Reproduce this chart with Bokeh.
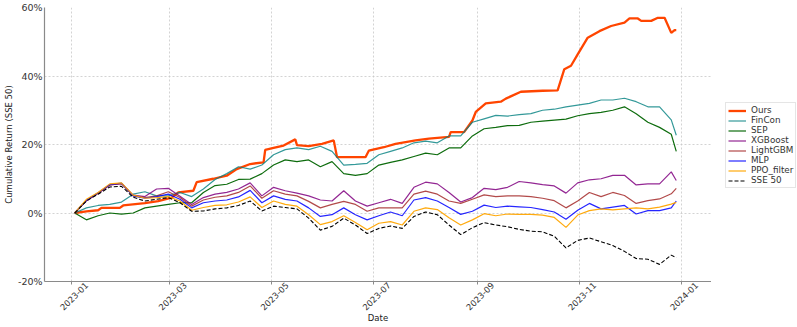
import math
import pandas as pd
from bokeh.plotting import figure
from bokeh.layouts import row
from bokeh.models import (Legend, LegendItem, FixedTicker, PrintfTickFormatter, Range1d,
                          DatetimeAxis)
from bokeh.embed import file_html
from bokeh.resources import INLINE

# ---------------- data (cumulative return, %) ----------------
week_dates = ["2023-01-03", "2023-01-10", "2023-01-17", "2023-01-24", "2023-01-31",
              "2023-02-07", "2023-02-14", "2023-02-21", "2023-02-28", "2023-03-07",
              "2023-03-14", "2023-03-21", "2023-03-28", "2023-04-04", "2023-04-11",
              "2023-04-18", "2023-04-25", "2023-05-02", "2023-05-09", "2023-05-16",
              "2023-05-23", "2023-05-30", "2023-06-06", "2023-06-13", "2023-06-20",
              "2023-06-27", "2023-07-04", "2023-07-11", "2023-07-18", "2023-07-25",
              "2023-08-01", "2023-08-08", "2023-08-15", "2023-08-22", "2023-08-29",
              "2023-09-05", "2023-09-12", "2023-09-19", "2023-09-26", "2023-10-03",
              "2023-10-10", "2023-10-17", "2023-10-24", "2023-10-31", "2023-11-07",
              "2023-11-14", "2023-11-21", "2023-11-28", "2023-12-05", "2023-12-12",
              "2023-12-19", "2023-12-26", "2023-12-29"]

fincon = [0, 1.5, 2.2, 2.5, 3.2, 5.5, 6.2, 5.0, 5.0, 6.0,
          4.8, 7.0, 9.8, 11.5, 13.5, 12.8, 14.0, 17.0, 18.5, 19.0,
          18.5, 19.5, 18.0, 14.0, 14.2, 14.5, 17.0, 18.0, 19.0, 20.5,
          21.0, 20.5, 22.5, 22.5, 26.5, 27.5, 28.5, 28.3, 28.7, 29.0,
          30.0, 30.3, 31.0, 31.5, 32.0, 33.0, 33.0, 33.5, 32.5, 31.0,
          31.0, 27.2, 22.7]

sep = [0, -2.0, -0.8, 0.0, -0.3, 0.0, 1.5, 2.0, 2.5, 3.0,
       3.0, 6.0, 8.0, 8.4, 9.8, 9.9, 11.5, 14.0, 15.5, 15.0,
       15.5, 13.5, 15.0, 11.5, 11.0, 11.5, 14.0, 14.8, 15.5, 16.5,
       17.5, 17.0, 19.0, 19.0, 22.5, 24.6, 25.0, 25.5, 25.6, 26.5,
       26.8, 27.1, 27.4, 28.4, 29.0, 29.4, 30.0, 31.0, 29.0, 26.5,
       25.0, 23.0, 18.0]

xgboost = [0, 3.6, 5.8, 8.2, 8.6, 5.2, 4.8, 7.0, 7.2, 4.9,
           2.5, 4.5, 5.5, 6.0, 7.0, 8.8, 5.0, 7.5, 6.5, 5.8,
           5.0, 3.8, 3.5, 6.5, 3.5, 2.0, 3.0, 4.0, 2.8, 7.5,
           9.0, 8.5, 6.0, 3.2, 4.5, 7.2, 6.8, 7.5, 9.2, 8.8,
           8.3, 7.9, 5.8, 8.8, 9.7, 10.0, 11.0, 11.0, 8.2, 8.5,
           8.5, 12.0, 9.5]

lightgbm = [0, 3.6, 5.8, 8.2, 8.6, 5.0, 4.5, 5.0, 6.2, 4.5,
            2.0, 3.8, 4.6, 5.0, 6.0, 7.9, 4.3, 6.5, 5.5, 5.0,
            3.4, 1.5, 2.5, 3.4, 2.5, 0.5, 1.5, 1.5, 1.5, 5.5,
            6.4, 5.5, 3.5, 2.8, 4.0, 5.3, 4.8, 5.0, 5.0, 4.8,
            4.3, 3.6, 1.5, 3.5, 6.0, 4.8, 6.0, 5.1, 2.8, 3.6,
            4.1, 5.6, 7.2]

mlp = [0, 3.7, 5.9, 8.3, 8.7, 5.0, 4.3, 4.8, 5.5, 4.0,
       1.5, 3.0, 3.5, 3.8, 4.7, 6.6, 3.0, 5.0, 4.0, 3.5,
       1.5, -1.0, -0.5, 1.5, -0.5, -2.0, -0.8, 0.3, -0.8, 3.8,
       4.5, 3.5, 1.6, -0.4, 0.5, 2.3, 1.6, 2.0, 1.8, 1.6,
       1.0, 0.3, -1.8, 0.8, 2.8, 1.2, 1.7, 2.2, -0.3, 0.7,
       0.7, 1.5, 3.5]

ppo_filter = [0, 4.0, 6.0, 8.5, 8.8, 5.2, 4.3, 4.5, 4.8, 3.5,
              0.8, 1.6, 2.2, 2.4, 3.2, 4.7, 1.6, 3.5, 2.5, 2.0,
              -0.5, -3.4, -2.5, -0.8, -2.8, -4.9, -3.0, -2.5, -3.5, 0.5,
              1.5, 1.0, -1.4, -3.5, -2.0, -0.2, -0.8, -0.3, -0.4, -0.4,
              -0.6, -1.3, -4.2, -0.6, 0.7, 1.2, 0.9, 1.2, 1.5, 1.2,
              1.7, 2.6, 3.1]

sse50 = [0, 3.5, 5.5, 7.6, 7.8, 4.6, 3.5, 4.0, 4.5, 3.0,
         0.5, 0.6, 1.2, 1.5, 2.2, 3.5, 0.6, 2.0, 1.6, 1.2,
         -1.5, -5.0, -3.9, -1.5, -3.5, -6.0, -4.5, -3.8, -4.5, -1.0,
         0.3, -0.5, -3.5, -6.3, -4.3, -2.8, -3.5, -4.0, -4.8, -5.3,
         -5.5, -6.8, -10.2, -8.0, -7.3, -8.4, -9.5, -11.2, -13.3, -13.5,
         -15.0, -12.3, -13.0]

ours_dates = ["2023-01-03", "2023-01-10", "2023-01-17", "2023-01-19", "2023-01-30",
              "2023-02-01", "2023-02-14", "2023-02-22", "2023-03-02", "2023-03-06",
              "2023-03-15", "2023-03-17", "2023-03-27", "2023-04-04", "2023-04-10",
              "2023-04-18", "2023-04-26", "2023-04-27", "2023-05-02", "2023-05-08",
              "2023-05-15", "2023-05-16", "2023-05-23", "2023-05-31", "2023-06-07",
              "2023-06-09", "2023-06-26", "2023-06-28", "2023-07-07", "2023-07-14",
              "2023-07-26", "2023-08-03", "2023-08-15", "2023-08-16", "2023-08-24",
              "2023-08-29", "2023-08-31", "2023-09-06", "2023-09-15", "2023-09-18",
              "2023-09-27", "2023-10-10", "2023-10-19", "2023-10-23", "2023-10-27",
              "2023-10-31", "2023-11-06", "2023-11-13", "2023-11-20", "2023-11-28",
              "2023-12-01", "2023-12-06", "2023-12-08", "2023-12-14", "2023-12-18",
              "2023-12-22", "2023-12-26", "2023-12-28", "2023-12-29"]

ours = [0, 0.5, 0.8, 1.5, 1.5, 2.2, 2.9, 3.5, 4.5, 6.0,
        6.5, 9.0, 10.0, 10.9, 12.8, 14.3, 14.8, 18.4, 19.0, 19.7,
        21.5, 19.8, 19.5, 20.2, 21.2, 16.3, 16.3, 18.2, 19.2, 20.2,
        21.2, 21.7, 22.2, 23.6, 23.6, 27.0, 29.5, 32.0, 32.5, 33.4,
        35.4, 35.7, 35.8, 42.0, 43.0, 46.3, 51.2, 53.1, 54.6, 55.6,
        56.8, 56.8, 56.1, 56.1, 57.0, 57.0, 52.6, 53.4, 53.4]

x_tick_labels = ["2023-01", "2023-03", "2023-05", "2023-07", "2023-09", "2023-11", "2024-01"]
y_ticks = [-20, 0, 20, 40, 60]

# ---------------- figure ----------------
def ms(s):
    return pd.Timestamp(s).value / 1e6

wd = pd.to_datetime(week_dates)
od = pd.to_datetime(ours_dates)

FONT = "DejaVu Sans"
X0, X1 = ms("2022-12-15 22:00"), ms("2024-01-19 02:00")
p = figure(frame_width=667, frame_height=274, x_axis_type="datetime",
           x_range=Range1d(X0, X1), y_range=Range1d(-20, 60),
           output_backend="svg", toolbar_location=None,
           min_border_left=0, min_border_right=0, min_border_top=7, min_border_bottom=0)
p.outline_line_color = None
p.background_fill_color = "white"

series = [
    ("Ours", od, ours, "#FF4500", 2.3, "solid", 1.0),
    ("FinCon", wd, fincon, "#008080", 1.2, "solid", 0.8),
    ("SEP", wd, sep, "#006400", 1.2, "solid", 0.95),
    ("XGBoost", wd, xgboost, "#800080", 1.2, "solid", 0.85),
    ("LightGBM", wd, lightgbm, "#A52A2A", 1.2, "solid", 0.85),
    ("MLP", wd, mlp, "#0000FF", 1.2, "solid", 0.85),
    ("PPO_filter", wd, ppo_filter, "#FFA500", 1.2, "solid", 0.95),
    ("SSE 50", wd, sse50, "#000000", 1.1, "4 2", 1.0),
]
for name, xs, ys, color, lw, dash, alpha in series:
    p.line(xs, ys, line_color=color, line_width=lw, line_dash=dash, line_alpha=alpha)

xt = [ms(l + "-01") for l in x_tick_labels]

# primary x axis: spine and tick marks only
xa = p.below[0]
xa.ticker = FixedTicker(ticks=xt)
xa.major_label_overrides = {t: "" for t in xt}
xa.major_label_text_font_size = "0px"
xa.major_label_standoff = 0
xa.major_tick_out = 3
p.xgrid.ticker = FixedTicker(ticks=xt)

ya = p.left[0]
ya.ticker = FixedTicker(ticks=y_ticks)
p.ygrid.ticker = FixedTicker(ticks=y_ticks)
ya.formatter = PrintfTickFormatter(format="%d%%")
ya.major_tick_out = 0
ya.major_label_text_font_size = "9.5px"
ya.major_label_standoff = 2
ya.axis_label_standoff = 1
ya.axis_label = "Cumulative Return (SSE 50)"

for ax in (xa, ya):
    ax.axis_line_color = "#8a8a8a"
    ax.axis_line_width = 1.2
    ax.major_tick_line_color = "#8a8a8a"
    ax.major_tick_in = 0
    ax.minor_tick_line_color = None
    ax.major_label_text_font = FONT
    ax.major_label_text_color = "#333333"
    ax.axis_label_text_font = FONT
    ax.axis_label_text_font_size = "8.5px"
    ax.axis_label_text_font_style = "normal"
    ax.axis_label_text_color = "#222222"

# date labels: rotated, sitting centred under each tick (label axis nudged right)
shift = 9 * 86400000
p.extra_x_ranges = {"labels": Range1d(X0 - shift, X1 - shift)}
la = DatetimeAxis(x_range_name="labels", ticker=FixedTicker(ticks=xt),
                  major_label_overrides={t: l for t, l in zip(xt, x_tick_labels)},
                  major_label_orientation=math.pi / 4,
                  axis_line_color=None, major_tick_line_color=None, minor_tick_line_color=None,
                  major_label_standoff=-7,
                  major_label_text_font=FONT, major_label_text_font_size="8.5px",
                  major_label_text_color="#333333",
                  axis_label="Date", axis_label_standoff=-4,
                  axis_label_text_font=FONT, axis_label_text_font_size="8.5px",
                  axis_label_text_font_style="normal", axis_label_text_color="#222222")
p.add_layout(la, "below")

for g in (p.xgrid, p.ygrid):
    g.grid_line_color = "#c8c8c8"
    g.grid_line_dash = "2 2"
    g.grid_line_width = 0.8

# ---------------- legend panel (separate small canvas to the right) ----------------
LH = 300
lf = figure(width=85, height=LH, output_backend="svg", toolbar_location=None,
            x_range=Range1d(0, 1), y_range=Range1d(0, 1), min_border=0,
            x_axis_location=None, y_axis_location=None)
lf.grid.visible = False
lf.outline_line_color = None
items = []
for name, xs, ys, color, lw, dash, alpha in series:
    # legend keys only: these sit outside the legend canvas' visible range
    r = lf.line(x=[-5, -4], y=[-5, -4], line_color=color, line_width=lw,
                line_dash=dash, line_alpha=alpha)
    items.append(LegendItem(label=name, renderers=[r]))

legend = Legend(items=items, location=(14, 68))
legend.label_text_font = FONT
legend.label_text_font_size = "8.8px"
legend.label_text_color = "#333333"
legend.glyph_width = 18
legend.glyph_height = 9
legend.label_height = 9
legend.label_standoff = 5
legend.spacing = 0
legend.padding = 2
legend.margin = 0
legend.border_line_color = "#cccccc"
legend.border_line_width = 1
lf.add_layout(legend)

layout = row(p, lf)
open("out.html", "w").write(file_html(layout, INLINE))
